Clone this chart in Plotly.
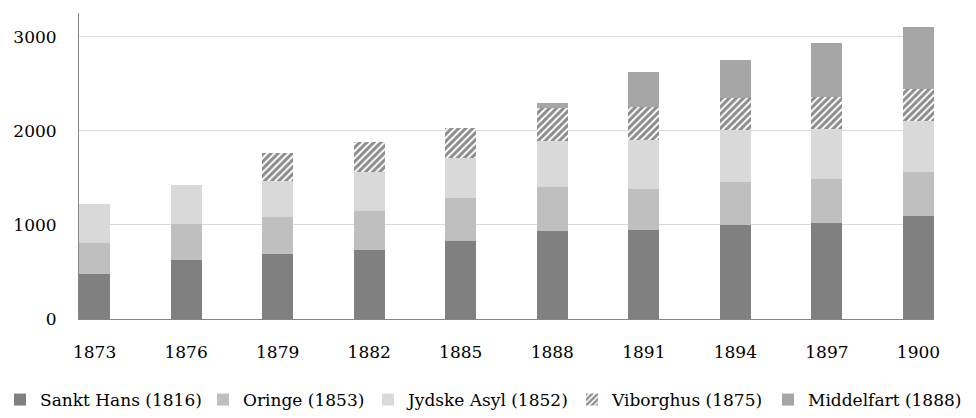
import plotly.graph_objects as go

years = ["1873", "1876", "1879", "1882", "1885", "1888", "1891", "1894", "1897", "1900"]
sankt_hans = [480, 630, 694, 729, 835, 931, 952, 1005, 1016, 1098]
oringe = [330, 383, 393, 425, 447, 468, 430, 454, 468, 471]
jydske_asyl = [415, 414, 383, 411, 429, 499, 523, 549, 538, 542]
viborghus = [0, 0, 294, 319, 319, 344, 351, 347, 344, 335]
middelfart = [0, 0, 0, 0, 0, 60, 372, 401, 570, 657]

names = ["Sankt Hans (1816)", "Oringe (1853)", "Jydske Asyl (1852)", "Viborghus (1875)", "Middelfart (1888)"]
colors = ["#808080", "#bfbfbf", "#d9d9d9", "#ffffff", "#a6a6a6"]
series = [sankt_hans, oringe, jydske_asyl, viborghus, middelfart]
legend_text_x = [40, 243, 408, 612, 808]  # left edge of legend texts (px)

W, H = 976, 418
FONT = "Georgia, 'DejaVu Serif', serif"
xs = list(range(len(years)))

fig = go.Figure()
legend_ids = ["legend", "legend2", "legend3", "legend4", "legend5"]
for i, (nm, col, vals) in enumerate(zip(names, colors, series)):
    marker = dict(color=col, line=dict(width=0))
    if i == 3:
        marker["pattern"] = dict(shape="/", fgcolor="#1a1a1a", bgcolor="#ffffff", size=5, solidity=0.6)
    fig.add_trace(go.Bar(x=xs, y=vals, name=nm, marker=marker, width=0.34,
                         legend=legend_ids[i], hoverinfo="skip"))

layout_legends = {}
for i, lid in enumerate(legend_ids):
    layout_legends[lid] = dict(
        orientation="h", xref="container", yref="container",
        x=(legend_text_x[i] - 40) / W, xanchor="left",
        y=1 - 400 / H, yanchor="middle",
        font=dict(family=FONT, size=17, color="#000000"),
        bgcolor="rgba(0,0,0,0)", itemwidth=30,
    )

fig.update_layout(
    barmode="stack",
    width=W, height=H,
    margin=dict(l=79, r=42, t=13, b=99, autoexpand=False),
    plot_bgcolor="white", paper_bgcolor="white",
    font=dict(family=FONT, size=17, color="#000000"),
    showlegend=True,
    bargap=0,
    **layout_legends,
)
fig.update_xaxes(
    range=[-0.17, 9.17], tickmode="array", tickvals=xs, ticktext=years,
    showgrid=False, showline=True, linecolor="#868686", linewidth=1,
    ticks="", ticklabelstandoff=18, tickfont=dict(family=FONT, size=17),
    fixedrange=True, automargin=False,
)
fig.update_yaxes(
    range=[0, 3255], tickvals=[0, 1000, 2000, 3000],
    showgrid=True, gridcolor="#d9d9d9", gridwidth=1,
    showline=True, linecolor="#868686", linewidth=1,
    zeroline=False, ticks="", ticklabelstandoff=18,
    tickfont=dict(family=FONT, size=17), automargin=False,
    fixedrange=True,
)
fig.write_html("out.html", config={"displayModeBar": False},
               post_script="document.body.style.margin='0';")
